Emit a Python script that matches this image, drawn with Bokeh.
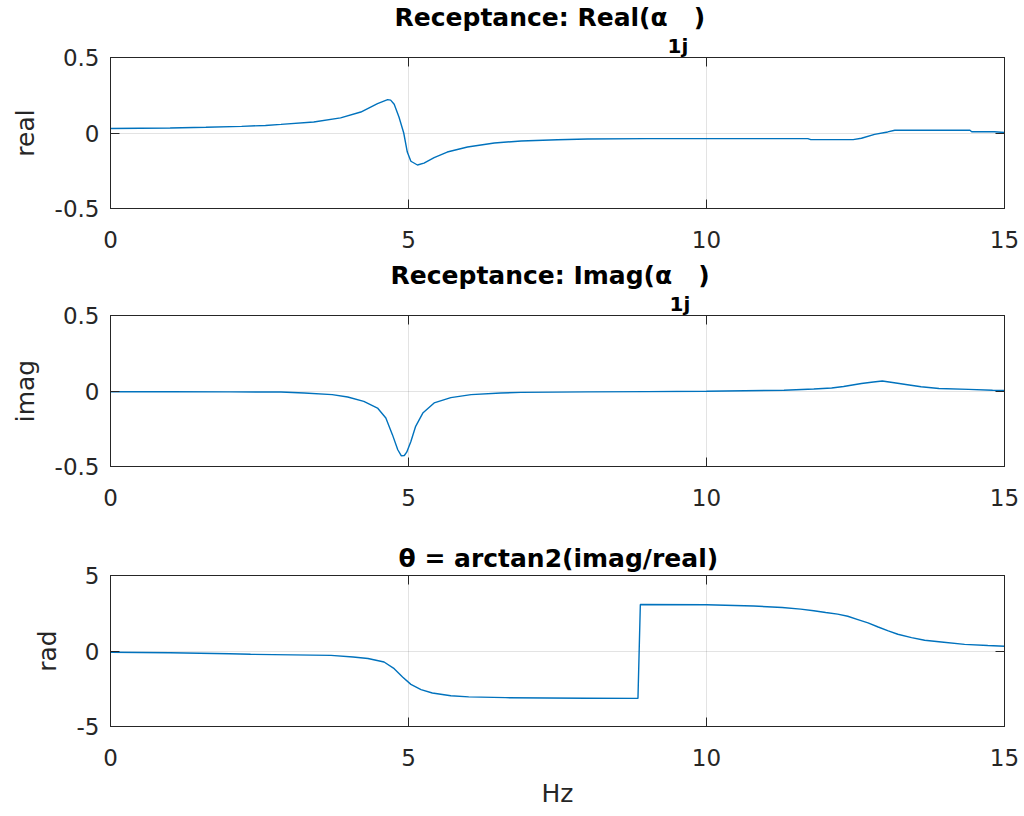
from bokeh.plotting import figure
from bokeh.layouts import column
from bokeh.models import Range1d, FixedTicker, LinearAxis, Title, CustomJSTickFormatter
from bokeh.embed import file_html
from bokeh.resources import INLINE

# ---------------- data ----------------
real_x = [0.0, 1.0, 1.6, 2.2, 2.6, 2.86, 3.41, 3.86, 4.20, 4.48, 4.65, 4.70, 4.76, 4.84, 4.92,
          4.98, 5.04, 5.15, 5.26, 5.43, 5.65, 5.99, 6.44, 6.89, 7.5, 8.0, 9.0, 11.7, 11.75,
          12.46, 12.6, 12.82, 13.04, 13.16, 14.42, 14.45, 14.83, 15.0]
real_y = [0.030, 0.033, 0.038, 0.044, 0.050, 0.057, 0.073, 0.100, 0.139, 0.195, 0.221, 0.218,
          0.190, 0.106, 0.0, -0.126, -0.187, -0.212, -0.199, -0.163, -0.126, -0.093, -0.066,
          -0.053, -0.045, -0.040, -0.037, -0.037, -0.044, -0.044, -0.035, -0.009, 0.007,
          0.018, 0.018, 0.008, 0.008, 0.003]

imag_x = [0.0, 1.0, 2.0, 2.86, 3.25, 3.72, 3.98, 4.25, 4.48, 4.62, 4.73, 4.82, 4.88, 4.93,
          4.97, 5.04, 5.12, 5.24, 5.43, 5.71, 6.05, 6.55, 6.89, 8.0, 9.0, 10.0, 11.3, 11.8,
          12.1, 12.3, 12.45, 12.6, 12.8, 12.95, 13.15, 13.4, 13.6, 13.9, 14.4, 14.8, 15.0]
imag_y = [-0.005, -0.005, -0.006, -0.007, -0.013, -0.024, -0.040, -0.069, -0.113, -0.179,
          -0.289, -0.389, -0.430, -0.427, -0.405, -0.334, -0.234, -0.146, -0.079, -0.044,
          -0.024, -0.013, -0.009, -0.006, -0.004, -0.002, 0.005, 0.013, 0.020, 0.030, 0.040,
          0.050, 0.060, 0.066, 0.055, 0.040, 0.028, 0.017, 0.011, 0.005, 0.003]

phase_x = [0.0, 1.0, 2.0, 2.35, 3.7, 4.07, 4.32, 4.59, 4.76, 4.90, 5.04, 5.21, 5.40, 5.71,
           6.01, 6.63, 7.98, 8.85, 8.89, 10.0, 10.79, 11.27, 11.58, 11.8, 12.0, 12.2, 12.37,
           12.54, 12.71, 12.88, 13.05, 13.21, 13.44, 13.66, 13.94, 14.33, 14.72, 15.0]
phase_y = [-0.08, -0.12, -0.18, -0.22, -0.29, -0.40, -0.50, -0.73, -1.17, -1.72, -2.21,
           -2.56, -2.78, -2.96, -3.04, -3.09, -3.13, -3.14, 3.08, 3.06, 2.98, 2.88, 2.77,
           2.67, 2.55, 2.44, 2.30, 2.08, 1.86, 1.59, 1.33, 1.11, 0.89, 0.71, 0.60, 0.44,
           0.36, 0.31]

x_ticks = [0, 5, 10, 15]
real_ticks = [-0.5, 0, 0.5]
imag_ticks = [-0.5, 0, 0.5]
phase_ticks = [-5, 0, 5]

# ---------------- style ----------------
AX = "#262626"
FONT = "DejaVu Sans"
LINE = "#0072BD"
NB = "\u00a0"


def style_axis(ax, ticks, labels=True, standoff=11):
    ax.ticker = FixedTicker(ticks=ticks)
    ax.major_tick_in = 9
    ax.major_tick_out = 0
    ax.minor_tick_line_color = None
    ax.axis_line_color = AX
    ax.major_tick_line_color = AX
    ax.major_label_text_font = FONT
    ax.major_label_text_color = AX
    if labels:
        ax.formatter = CustomJSTickFormatter(code="return String(tick)")
        ax.major_label_text_font_size = "23px"
        ax.major_label_standoff = standoff
    else:
        ax.formatter = CustomJSTickFormatter(code="return ''")
        ax.major_label_text_font_size = "1px"
        ax.major_label_standoff = 0
    ax.axis_label_text_font = FONT
    ax.axis_label_text_font_size = "25px"
    ax.axis_label_text_font_style = "normal"
    ax.axis_label_text_color = AX


def style_title(t, text, offset, size="25px", standoff=0, line_height=None):
    t.text = text
    t.align = "left"
    t.offset = offset
    t.text_font = FONT
    t.text_font_size = size
    t.text_font_style = "bold"
    t.text_color = "black"
    t.standoff = standoff
    if line_height is not None:
        t.text_line_height = line_height


def make_fig(x, y, yr, yticks, ylabel, height, top, bottom, xlabel=None):
    p = figure(width=1024, height=height, output_backend="svg", toolbar_location=None,
               x_range=Range1d(0, 15), y_range=Range1d(yr[0], yr[1]),
               min_border_left=110, min_border_right=20,
               min_border_top=top, min_border_bottom=bottom)
    p.line(x, y, line_color=LINE, line_width=1.4)
    p.outline_line_color = AX
    p.outline_line_alpha = 1
    p.outline_line_width = 1
    p.background_fill_color = "white"
    p.border_fill_color = "white"

    style_axis(p.xaxis[0], x_ticks, True, 22)
    style_axis(p.yaxis[0], yticks, True, 11)
    p.yaxis[0].axis_label = ylabel
    p.yaxis[0].axis_label_standoff = 12
    if xlabel:
        p.xaxis[0].axis_label = xlabel
        p.xaxis[0].axis_label_standoff = 10

    top_ax = LinearAxis()
    style_axis(top_ax, x_ticks, False)
    p.add_layout(top_ax, "above")
    right_ax = LinearAxis()
    style_axis(right_ax, yticks, False)
    p.add_layout(right_ax, "right")

    p.xgrid.ticker = FixedTicker(ticks=x_ticks)
    p.ygrid.ticker = FixedTicker(ticks=yticks)
    for g in (p.xgrid[0], p.ygrid[0]):
        g.grid_line_color = AX
        g.grid_line_alpha = 0.13
        g.grid_line_width = 1
    return p


# Subplot 1
p1 = make_fig(real_x, real_y, (-0.5, 0.5), real_ticks, "real", 258, 57, 50)
sub1 = Title()
style_title(sub1, "1j", 557, size="20px", line_height=0.75)
p1.add_layout(sub1, "above")
style_title(p1.title, "Receptance: Real(α" + NB * 3 + ")", 284)

# Subplot 2
p2 = make_fig(imag_x, imag_y, (-0.5, 0.5), imag_ticks, "imag", 258, 57, 50)
sub2 = Title()
style_title(sub2, "1j", 559, size="20px", line_height=0.75)
p2.add_layout(sub2, "above")
style_title(p2.title, "Receptance: Imag(α" + NB * 3 + ")", 280)

# Subplot 3
p3 = make_fig(phase_x, phase_y, (-5, 5), phase_ticks, "rad", 300, 59, 90, xlabel="Hz")
style_title(p3.title, "θ = arctan2(imag/real)", 288, standoff=6)

layout = column(p1, p2, p3, spacing=0)
open("out.html", "w").write(file_html(layout, INLINE))
